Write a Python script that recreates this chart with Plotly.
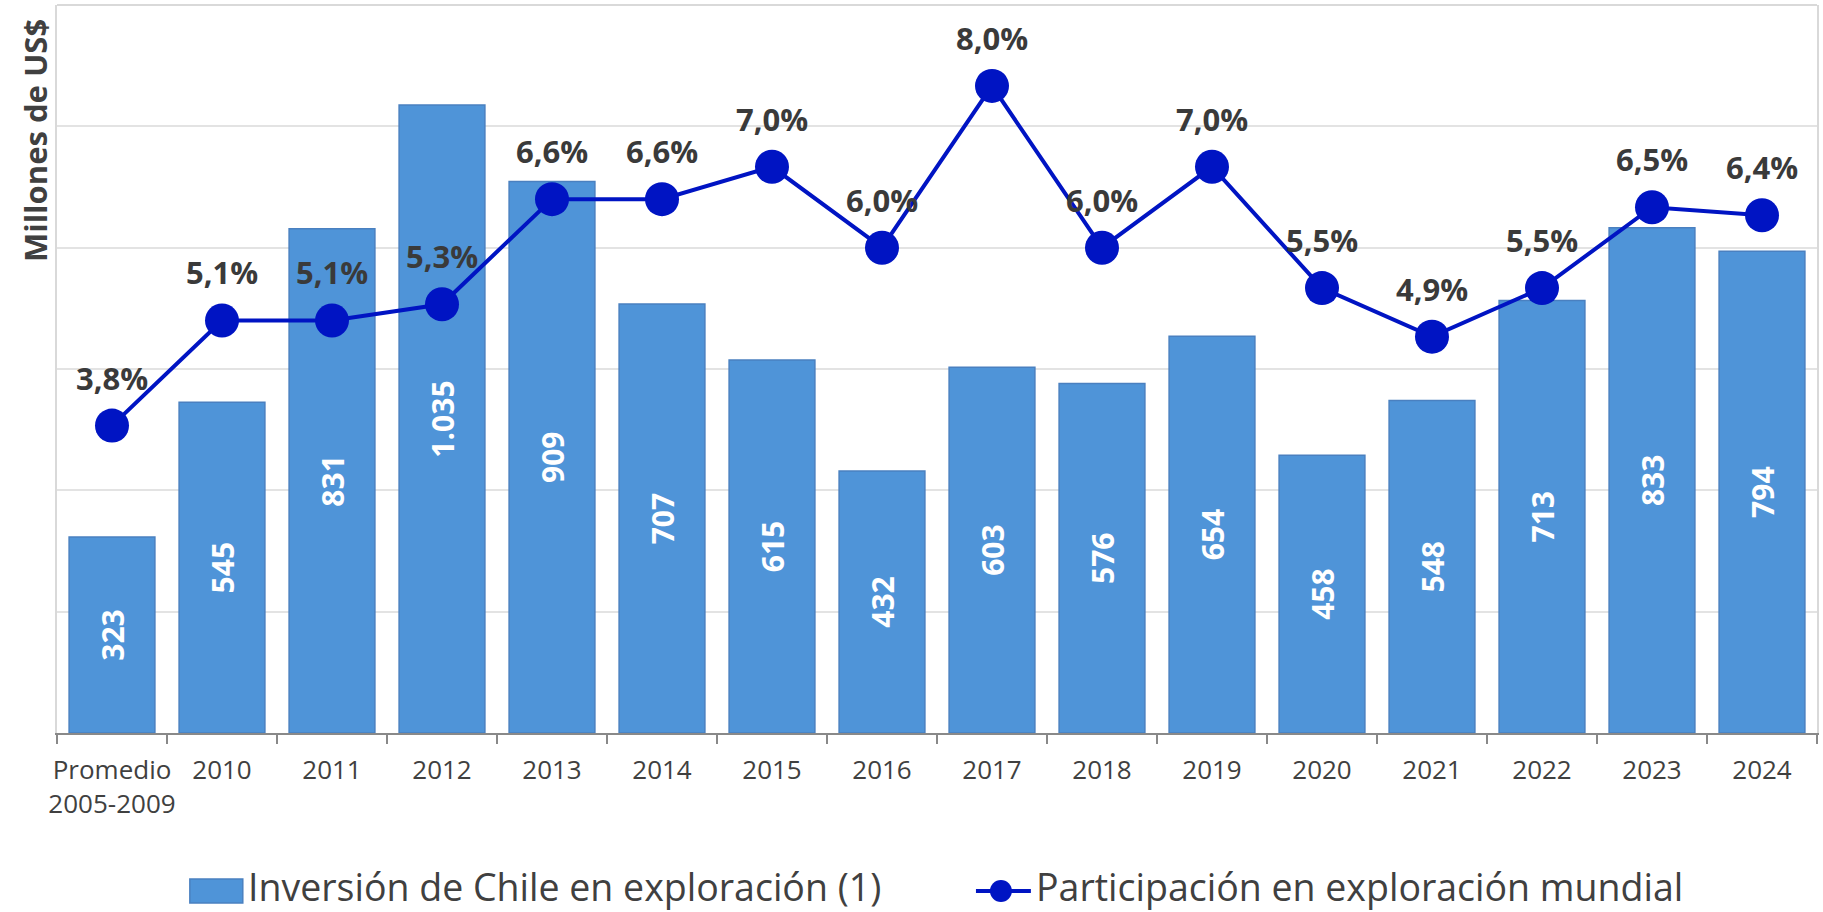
import plotly.graph_objects as go

# --- data -------------------------------------------------------------
categorias = ["Promedio<br>2005-2009", "2010", "2011", "2012", "2013", "2014", "2015",
              "2016", "2017", "2018", "2019", "2020", "2021", "2022", "2023", "2024"]
inversion = [323, 545, 831, 1035, 909, 707, 615, 432, 603, 576, 654, 458, 548, 713, 833, 794]
participacion = [3.8, 5.1, 5.1, 5.3, 6.6, 6.6, 7.0, 6.0, 8.0, 6.0, 7.0, 5.5, 4.9, 5.5, 6.5, 6.4]

nombre_barras = "Inversión de Chile en exploración (1)"
nombre_linea = "Participación en exploración mundial"
titulo_y = "Millones de US$"

# --- styling ----------------------------------------------------------
W, H = 1823, 912
ML, MR, MT, MB = 57, 4, 5, 179
PW, PH = W - ML - MR, H - MT - MB

AZUL_BARRA = "#4F94D8"
BORDE_BARRA = "#4A80C0"
AZUL_LINEA = "#0014C3"
GRIS_TEXTO = "#404040"
FUENTE = "Open Sans"


def px_x(p):
    """Horizontal pixel position -> paper coordinate."""
    return (p - ML) / PW


def px_y(p):
    """Vertical pixel position (from top) -> paper coordinate."""
    return (H - MB - p) / PH


fig = go.Figure()

fig.add_trace(go.Bar(
    x=categorias, y=inversion, name=nombre_barras,
    marker=dict(color=AZUL_BARRA, line=dict(color=BORDE_BARRA, width=1.5)),
    texttemplate="%{y:,.0f}", textposition="inside", insidetextanchor="middle",
    textangle=-90, constraintext="none",
    textfont=dict(family=FUENTE, size=30, color="white", weight="bold"),
    hoverinfo="skip", showlegend=False,
))

fig.add_trace(go.Scatter(
    x=categorias, y=participacion, name=nombre_linea, yaxis="y2",
    mode="lines+markers",
    line=dict(color=AZUL_LINEA, width=4),
    marker=dict(size=34, color=AZUL_LINEA),
    hoverinfo="skip", showlegend=False,
))

anotaciones = []
# percentage labels above each point of the line (x given as category index)
for i, v in enumerate(participacion):
    anotaciones.append(dict(
        x=i, y=v, xref="x", yref="y2", yshift=48,
        text=f"{v:.1f}%".replace(".", ","), showarrow=False,
        xanchor="center", yanchor="middle",
        font=dict(family=FUENTE, size=31, color="#3A3A3A", weight="bold"),
    ))

# y axis title
anotaciones.append(dict(
    x=px_x(35), y=px_y(141), xref="paper", yref="paper", text=titulo_y,
    textangle=-90, showarrow=False, xanchor="center", yanchor="middle",
    font=dict(family=FUENTE, size=31, color=GRIS_TEXTO, weight="bold"),
))

# legend texts
for x_txt, txt in ((246, nombre_barras), (1035, nombre_linea)):
    anotaciones.append(dict(
        x=px_x(x_txt), y=px_y(887), xref="paper", yref="paper", text=txt,
        showarrow=False, xanchor="left", yanchor="middle",
        font=dict(family=FUENTE, size=37.5, color=GRIS_TEXTO),
    ))

formas = [
    # top border of the plot frame
    dict(type="line", xref="paper", yref="paper", x0=0, x1=1, y0=1, y1=1,
         line=dict(color="#D9D9D9", width=2)),
    # legend swatch for the bars
    dict(type="rect", xref="paper", yref="paper",
         x0=px_x(190), x1=px_x(243), y0=px_y(903), y1=px_y(879),
         fillcolor=AZUL_BARRA, line=dict(color=BORDE_BARRA, width=1.5)),
    # legend symbol for the line
    dict(type="line", xref="paper", yref="paper",
         x0=px_x(977), x1=px_x(1032), y0=px_y(891), y1=px_y(891),
         line=dict(color=AZUL_LINEA, width=4)),
    dict(type="circle", xref="paper", yref="paper",
         x0=px_x(991), x1=px_x(1013), y0=px_y(902), y1=px_y(880),
         fillcolor=AZUL_LINEA, line=dict(color=AZUL_LINEA, width=0)),
]

fig.update_layout(
    width=W, height=H, autosize=False,
    margin=dict(l=ML, r=MR, t=MT, b=MB, pad=0),
    paper_bgcolor="white", plot_bgcolor="white",
    separators=",.",
    bargap=0.22,
    font=dict(family=FUENTE, color=GRIS_TEXTO),
    xaxis=dict(
        type="category", range=[-0.5, len(categorias) - 0.5],
        showline=True, linecolor="#898989", linewidth=2,
        ticks="outside", tickson="boundaries", ticklen=9, tickwidth=2,
        tickcolor="#898989", showgrid=False, tickangle=0,
        ticklabelstandoff=13,
        tickfont=dict(family=FUENTE, size=26, color=GRIS_TEXTO),
    ),
    yaxis=dict(
        range=[0, 1200], dtick=200, showticklabels=False, ticks="",
        showgrid=True, gridcolor="#E3E3E3", gridwidth=1.5, zeroline=False,
        showline=True, mirror=True, linecolor="#D9D9D9", linewidth=2,
    ),
    yaxis2=dict(range=[0, 9], overlaying="y", visible=False, showgrid=False),
    annotations=anotaciones,
    shapes=formas,
    showlegend=False,
)

fig.write_html("out.html", config={"displayModeBar": False})
